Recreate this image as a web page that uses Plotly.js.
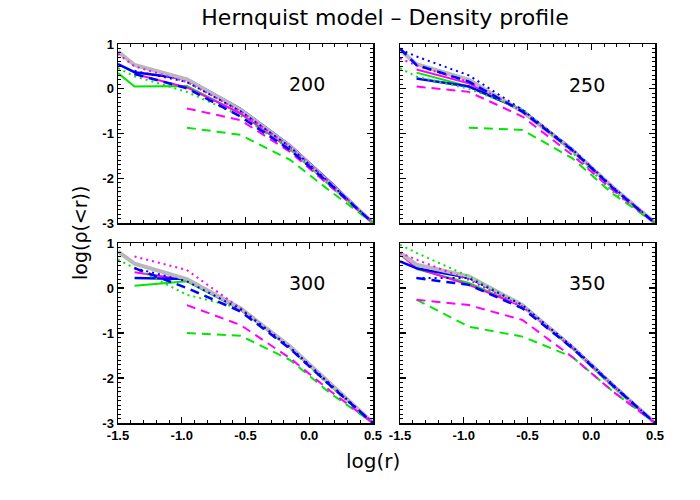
<!DOCTYPE html>
<html>
<head>
<meta charset="utf-8">
<script src="https://cdn.plot.ly/plotly-3.0.1.min.js"></script>
<style>html,body{margin:0;padding:0;background:#fff;}#chart{width:700px;height:500px;}</style>
</head>
<body>
<div id="chart"></div>
<script>
// log(r) bins shared by every curve
const R_BINS = [-1.5, -1.37, -0.96, -0.54, -0.15, 0.17, 0.5];
const PANEL_LABELS = ['200', '250', '300', '350'];
const X_TICK_VALS = [-1.5, -1.0, -0.5, 0.0, 0.5];
const X_TICK_LABELS = ['-1.5', '-1.0', '-0.5', '0.0', '0.5'];
const Y_TICK_VALS = [-3, -2, -1, 0, 1];
const Y_TICK_LABELS = ['-3', '-2', '-1', '0', '1'];

// Panel 200
const p200_gray      = [0.83, 0.53, 0.21, -0.47, -1.29, -2.12, -3.0];
const p200_blueSolid = [0.55, 0.37, 0.22, -0.45, -1.27, -2.10, -3.0];
const p200_blueDot   = [null, 0.40, 0.15, -0.50, -1.30, -2.13, -3.0];
const p200_blueDash  = [null, 0.33, 0.01, -0.62, -1.37, -2.15, -3.0];
const p200_magSolid  = [null, 0.33, 0.03, -0.55, -1.33, -2.15, -3.0];
const p200_magDot    = [0.78, 0.50, 0.15, -0.50, -1.30, -2.12, -3.0];
const p200_magDash   = [null, null, -0.44, -0.70, -1.41, -2.20, -3.0];
const p200_grnSolid  = [0.35, 0.05, 0.06, -0.55, -1.35, -2.18, -3.0];
const p200_grnDot    = [0.46, 0.28, -0.07, -0.60, -1.35, -2.18, -3.0];
const p200_grnDash   = [null, null, -0.87, -1.03, -1.59, -2.30, -3.0];

// Panel 250
const p250_gray      = [0.87, 0.55, 0.20, -0.51, -1.37, -2.20, -3.0];
const p250_blueSolid = [null, 0.23, 0.05, -0.48, -1.35, -2.20, -3.0];
const p250_blueDot   = [0.88, 0.72, 0.30, -0.47, -1.35, -2.20, -3.0];
const p250_blueDash  = [0.90, 0.53, 0.16, -0.51, -1.37, -2.22, -3.0];
const p250_magSolid  = [null, 0.43, 0.12, -0.50, -1.37, -2.22, -3.0];
const p250_magDot    = [0.68, 0.52, 0.15, -0.50, -1.37, -2.22, -3.0];
const p250_magDash   = [null, 0.05, -0.07, -0.62, -1.48, -2.27, -3.0];
const p250_grnSolid  = [null, 0.36, 0.05, -0.48, -1.37, -2.22, -3.0];
const p250_grnDot    = [0.46, 0.27, 0.00, -0.45, -1.42, -2.30, -3.0];
const p250_grnDash   = [null, null, -0.87, -0.92, -1.55, -2.35, -3.0];

// Panel 300
const p300_gray      = [0.81, 0.54, 0.20, -0.45, -1.30, -2.15, -3.0];
const p300_blueSolid = [null, 0.22, 0.20, -0.45, -1.30, -2.15, -3.0];
const p300_blueDot   = [null, 0.44, 0.15, -0.47, -1.32, -2.15, -3.0];
const p300_blueDash  = [null, 0.44, 0.00, -0.52, -1.35, -2.18, -3.0];
const p300_magSolid  = [null, 0.35, 0.18, -0.48, -1.32, -2.17, -3.0];
const p300_magDot    = [null, 0.70, 0.40, -0.45, -1.32, -2.17, -3.0];
const p300_magDash   = [null, null, -0.38, -0.82, -1.56, -2.30, -3.0];
const p300_grnSolid  = [null, 0.05, 0.15, -0.48, -1.33, -2.18, -3.0];
const p300_grnDot    = [0.63, 0.44, -0.15, -0.45, -1.35, -2.20, -3.0];
const p300_grnDash   = [null, null, -1.00, -1.06, -1.60, -2.35, -3.0];

// Panel 350
const p350_gray      = [0.78, 0.52, 0.26, -0.38, -1.32, -2.17, -3.0];
const p350_blueSolid = [0.59, 0.44, 0.23, -0.38, -1.30, -2.15, -3.0];
const p350_blueDot   = [null, 0.22, 0.22, -0.38, -1.30, -2.15, -3.0];
const p350_blueDash  = [null, 0.22, 0.07, -0.45, -1.33, -2.17, -3.0];
const p350_magSolid  = [0.75, 0.44, 0.07, -0.41, -1.33, -2.17, -3.0];
const p350_magDot    = [0.78, 0.63, 0.18, -0.41, -1.33, -2.17, -3.0];
const p350_magDash   = [null, -0.26, -0.38, -0.71, -1.53, -2.30, -3.0];
const p350_grnSolid  = [null, 0.42, 0.11, -0.41, -1.33, -2.18, -3.0];
const p350_grnDot    = [0.96, 0.78, 0.26, -0.38, -1.33, -2.20, -3.0];
const p350_grnDash   = [null, -0.26, -0.86, -1.08, -1.53, -2.30, -3.0];

const GRAY = '#b8b8b8', BLUE = '#0000ff', MAG = '#ff00ff', GRN = '#00e800';
const DASH = '9px,6px', DOT = '2px,4px';

// drawing order: solids, gray model curve, dotted, dashed
const panels = [
  {xa: 'x',  ya: 'y',  s: [p200_grnSolid, p200_magSolid, p200_blueSolid, p200_gray, p200_grnDot, p200_magDot, p200_blueDot, p200_grnDash, p200_magDash, p200_blueDash]},
  {xa: 'x2', ya: 'y2', s: [p250_grnSolid, p250_magSolid, p250_blueSolid, p250_gray, p250_grnDot, p250_magDot, p250_blueDot, p250_grnDash, p250_magDash, p250_blueDash]},
  {xa: 'x3', ya: 'y3', s: [p300_grnSolid, p300_magSolid, p300_blueSolid, p300_gray, p300_grnDot, p300_magDot, p300_blueDot, p300_grnDash, p300_magDash, p300_blueDash]},
  {xa: 'x4', ya: 'y4', s: [p350_grnSolid, p350_magSolid, p350_blueSolid, p350_gray, p350_grnDot, p350_magDot, p350_blueDot, p350_grnDash, p350_magDash, p350_blueDash]}
];
const styles = [
  {color: GRN, dash: 'solid', width: 2},
  {color: MAG, dash: 'solid', width: 2},
  {color: BLUE, dash: 'solid', width: 2.5},
  {color: GRAY, dash: 'solid', width: 4},
  {color: GRN, dash: DOT, width: 2},
  {color: MAG, dash: DOT, width: 2},
  {color: BLUE, dash: DOT, width: 2},
  {color: GRN, dash: DASH, width: 2},
  {color: MAG, dash: DASH, width: 2},
  {color: BLUE, dash: DASH, width: 2.5}
];

const traces = [];
panels.forEach(p => {
  p.s.forEach((ys, i) => {
    traces.push({
      x: R_BINS, y: ys, xaxis: p.xa, yaxis: p.ya, type: 'scatter', mode: 'lines',
      line: styles[i], showlegend: false, hoverinfo: 'skip', connectgaps: false
    });
  });
});

const tickFont = {family: 'Liberation Sans, Arial, sans-serif', size: 13, color: '#000', weight: 'bold'};
function xAxis(domain, anchor, labels) {
  return {
    domain: domain, anchor: anchor, range: [-1.5, 0.5], showgrid: false, zeroline: false,
    showline: true, linecolor: '#000', linewidth: 1.5, mirror: 'ticks',
    ticks: 'inside', ticklen: 6, tickwidth: 1.2, tickcolor: '#000',
    tickmode: 'array', tickvals: X_TICK_VALS, ticktext: X_TICK_LABELS,
    showticklabels: labels, tickfont: tickFont,
    minor: {dtick: 0.1, tick0: -1.5, ticks: 'inside', ticklen: 3, tickwidth: 1, tickcolor: '#000'}
  };
}
function yAxis(domain, anchor, labels) {
  return {
    domain: domain, anchor: anchor, range: [-3, 1], showgrid: false, zeroline: false,
    showline: true, linecolor: '#000', linewidth: 1.5, mirror: 'ticks',
    ticks: 'inside', ticklen: 6, tickwidth: 1.2, tickcolor: '#000',
    tickmode: 'array', tickvals: Y_TICK_VALS, ticktext: Y_TICK_LABELS,
    showticklabels: labels, tickfont: tickFont,
    minor: {dtick: 0.1, tick0: -3, ticks: 'inside', ticklen: 3, tickwidth: 1, tickcolor: '#000'}
  };
}
const XL = [118/700, 373/700], XR = [400/700, 655/700];
const YT = [1 - 223/500, 1 - 44/500], YB = [1 - 423/500, 1 - 243/500];

const numFont = {family: 'DejaVu Sans, sans-serif', size: 19, color: '#000'};
const anns = [
  {xref: 'paper', yref: 'paper', x: 307/700, y: 1 - 84/500, text: PANEL_LABELS[0]},
  {xref: 'paper', yref: 'paper', x: 587/700, y: 1 - 85/500, text: PANEL_LABELS[1]},
  {xref: 'paper', yref: 'paper', x: 307/700, y: 1 - 283/500, text: PANEL_LABELS[2]},
  {xref: 'paper', yref: 'paper', x: 587/700, y: 1 - 283/500, text: PANEL_LABELS[3]}
].map(a => Object.assign(a, {showarrow: false, xanchor: 'center', yanchor: 'middle', font: numFont}));
anns.push({xref: 'paper', yref: 'paper', x: 373/700, y: 1 - 461/500, text: 'log(r)', showarrow: false,
  xanchor: 'center', yanchor: 'middle', font: {family: 'DejaVu Sans, sans-serif', size: 20, color: '#000'}});
anns.push({xref: 'paper', yref: 'paper', x: 80/700, y: 1 - 233/500, text: 'log(ρ(&lt;r))', showarrow: false,
  textangle: -90, xanchor: 'center', yanchor: 'middle', font: {family: 'DejaVu Sans, sans-serif', size: 19, color: '#000'}});

const layout = {
  width: 700, height: 500, margin: {l: 0, r: 0, t: 0, b: 0},
  paper_bgcolor: '#fff', plot_bgcolor: '#fff', showlegend: false,
  title: {text: 'Hernquist model – Density profile', x: 385/700, y: 1 - 17/500, xanchor: 'center', yanchor: 'middle',
    font: {family: 'DejaVu Sans, sans-serif', size: 22, color: '#000'}},
  xaxis: xAxis(XL, 'y', false), yaxis: yAxis(YT, 'x', true),
  xaxis2: xAxis(XR, 'y2', false), yaxis2: yAxis(YT, 'x2', false),
  xaxis3: xAxis(XL, 'y3', true), yaxis3: yAxis(YB, 'x3', true),
  xaxis4: xAxis(XR, 'y4', true), yaxis4: yAxis(YB, 'x4', false),
  annotations: anns
};

Plotly.newPlot('chart', traces, layout, {displayModeBar: false, staticPlot: true});
</script>
</body>
</html>
